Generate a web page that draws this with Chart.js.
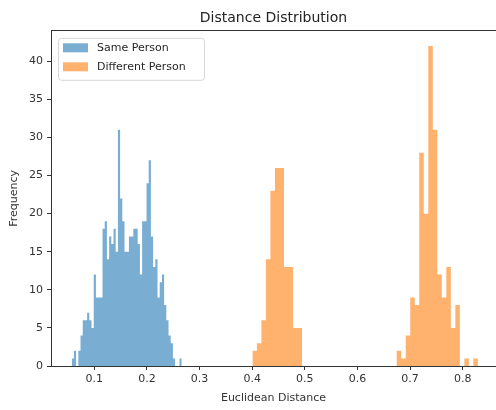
<!DOCTYPE html>
<html>
<head>
<meta charset="utf-8">
<script src="https://cdn.jsdelivr.net/npm/chart.js@4.4.1/dist/chart.umd.min.js"></script>
<style>
  html, body { margin: 0; padding: 0; background: #fff; }
  #wrap { width: 496px; height: 410px; }
</style>
</head>
<body>
<div id="wrap"><canvas id="distChart"></canvas></div>
<script>
// Histogram of face-embedding distances (50 bins per series)
const seriesLabels = ["Same Person", "Different Person"];
const xTicks = [0.1, 0.2, 0.3, 0.4, 0.5, 0.6, 0.7, 0.8];
const yTicks = [0, 5, 10, 15, 20, 25, 30, 35, 40];

// bin layout
const sameStart = 0.0571;
const sameBinWidth = 0.00418;
const sameCounts = [
  1, 2, 0, 2, 4, 6, 6, 7, 6, 5,
  12, 9, 9, 9, 18, 19, 14, 17, 16, 18,
  15, 31, 22, 19, 15, 15, 17, 17, 18, 18,
  16, 12, 19, 19, 24, 27, 17, 13, 14, 9,
  11, 12, 8, 6, 4, 3, 1, 0, 0, 1
];

const diffStart = 0.4004;
const diffBinWidth = 0.00857;
const diffCounts = [
  2, 3, 6, 14, 23, 26, 26, 13, 13, 5, 5,
  0, 0, 0, 0, 0, 0, 0, 0, 0, 0,
  0, 0, 0, 0, 0, 0, 0, 0, 0, 0, 0,
  2, 1, 4, 9, 8, 28, 20, 42, 31, 12, 9, 13, 5, 8, 0, 1, 0, 1
];

const X_MIN = 0.01773;
const X_MAX = 0.8633;

const blueFill = "#79add2";   // tab:blue at alpha .6
const orangeFill = "#ffb26e"; // tab:orange at alpha .6
const ink = "#333";
const fontFamily = "'DejaVu Sans', sans-serif";

// histogram outline as step points on bin edges; last edge closes the final bin
function toSteps(start, width, counts) {
  const pts = counts.map((c, i) => ({ x: start + width * i, y: c }));
  pts.push({ x: start + width * counts.length, y: 0 });
  return pts;
}

// matplotlib style legend box inside the axes
const insideLegend = {
  id: "insideLegend",
  afterDatasetsDraw(chart) {
    const { ctx, chartArea } = chart;
    const left = chartArea.left + 7;
    const top = chartArea.top + 7;
    ctx.save();
    ctx.beginPath();
    ctx.roundRect(left + 0.5, top + 0.5, 146, 42, 3);
    ctx.fillStyle = "rgba(255,255,255,0.8)";
    ctx.fill();
    ctx.strokeStyle = "#d6d6d6";
    ctx.lineWidth = 1;
    ctx.stroke();

    ctx.font = "11px " + fontFamily;
    ctx.textBaseline = "middle";
    chart.data.datasets.forEach((ds, i) => {
      const rowY = top + 10 + i * 19;
      ctx.fillStyle = ds.backgroundColor;
      ctx.fillRect(left + 5, rowY - 4.5, 25, 9);
      ctx.fillStyle = "#262626";
      ctx.fillText(ds.label, left + 39, rowY + 0.5);
    });
    ctx.restore();
  }
};

const histStyle = {
  stepped: true,
  fill: "origin",
  borderWidth: 0,
  borderColor: "transparent",
  pointRadius: 0,
  pointHoverRadius: 0,
  tension: 0
};

new Chart(document.getElementById("distChart"), {
  type: "line",
  data: {
    datasets: [
      Object.assign({
        label: seriesLabels[0],
        data: toSteps(sameStart, sameBinWidth, sameCounts),
        backgroundColor: blueFill
      }, histStyle),
      Object.assign({
        label: seriesLabels[1],
        data: toSteps(diffStart, diffBinWidth, diffCounts),
        backgroundColor: orangeFill
      }, histStyle)
    ]
  },
  options: {
    responsive: true,
    maintainAspectRatio: false,
    animation: false,
    layout: { padding: 0 },
    plugins: {
      legend: { display: false },
      tooltip: { enabled: false },
      title: {
        display: true,
        fullSize: false,
        text: "Distance Distribution",
        color: "#222",
        font: { family: fontFamily, size: 14, weight: "normal" },
        padding: { top: 10, bottom: 4 }
      }
    },
    scales: {
      x: {
        type: "linear",
        position: "bottom",
        offset: false,
        min: X_MIN,
        max: X_MAX,
        afterBuildTicks: (axis) => { axis.ticks = xTicks.map(v => ({ value: v })); },
        afterFit: (axis) => { axis.height = 44; },
        grid: { offset: false, drawOnChartArea: false, drawTicks: true, tickLength: 4, color: ink },
        border: { color: ink, width: 1 },
        ticks: {
          padding: 3,
          color: ink,
          font: { family: fontFamily, size: 11 },
          callback: (v) => v.toFixed(1)
        },
        title: {
          display: true,
          text: "Euclidean Distance",
          color: ink,
          font: { family: fontFamily, size: 11 },
          padding: { top: 2, bottom: 5 }
        }
      },
      xTop: {
        type: "linear",
        position: "top",
        offset: false,
        min: X_MIN,
        max: X_MAX,
        afterFit: (axis) => { axis.height = 0; },
        grid: { offset: false, display: false, drawTicks: false },
        border: { display: true, color: ink, width: 1 },
        ticks: { display: false }
      },
      y: {
        position: "left",
        min: 0,
        max: 44,
        afterBuildTicks: (axis) => { axis.ticks = yTicks.map(v => ({ value: v })); },
        afterFit: (axis) => { axis.width = 51; },
        grid: { drawOnChartArea: false, drawTicks: true, tickLength: 4, color: ink },
        border: { color: ink, width: 1 },
        ticks: {
          padding: 4,
          color: ink,
          font: { family: fontFamily, size: 11 }
        },
        title: {
          display: true,
          text: "Frequency",
          color: ink,
          font: { family: fontFamily, size: 11 },
          padding: { top: 8, bottom: 4 }
        }
      }
    }
  },
  plugins: [insideLegend]
});
</script>
</body>
</html>
